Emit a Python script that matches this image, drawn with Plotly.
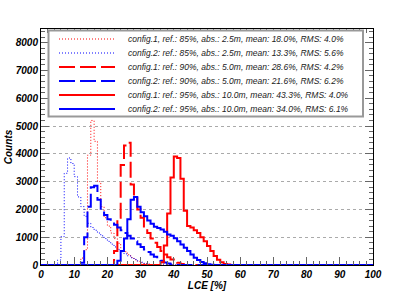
import plotly.graph_objects as go

# ---------------- data (bin width 1 %, 0..100) ----------------
bin_edges = list(range(0, 101))

rd_start = 12   # config.1, ref 85%, abs 2.5m  (red dotted)
rd_counts = [250, 550, 3950, 5200, 4450, 3000, 2100, 1700, 1400, 1150, 950, 780,
             620, 480, 370, 270, 190, 130, 80, 50, 25]

bd_start = 5    # config.2, ref 85%, abs 2.5m  (blue dotted)
bd_counts = [180, 1020, 3300, 3850, 3650, 3180, 2450, 2100, 1750, 1500, 1350, 1250,
             1150, 1050, 950, 850, 750, 650, 560, 480, 400, 330, 260, 200, 150, 100,
             60, 30, 10]

rda_start = 22  # config.1, ref 90%, abs 5.0m  (red dashed)
rda_counts = [500, 1700, 3600, 4300, 4400, 2900, 2450, 2000, 1700, 1350, 1150, 950,
              800, 650, 500, 380, 280, 200, 130, 80, 40]

bda_start = 12  # config.2, ref 90%, abs 5.0m  (blue dashed)
bda_counts = [80, 1000, 2100, 2800, 2850, 2350, 1950, 1800, 1650, 1550, 1450, 1350,
              1250, 1150, 1050, 950, 850, 750, 650, 560, 470, 380, 300, 220, 150, 90,
              50, 20]

rs_start = 36   # config.1, ref 95%, abs 10.0m (red solid)
rs_counts = [100, 700, 1850, 3150, 3900, 3850, 3100, 1950, 1400, 1350, 1250, 1150,
             1000, 850, 680, 500, 320, 190, 100, 40, 15]

bs_start = 23   # config.2, ref 95%, abs 10.0m (blue solid)
bs_counts = [150, 500, 950, 1650, 2350, 2450, 2100, 1900, 1750, 1600, 1480, 1380,
             1330, 1280, 1200, 1100, 1050, 960, 850, 740, 620, 500, 380, 260, 180,
             110, 60, 25, 10]

legend_labels = [
    "config.1, ref.: 85%, abs.: 2.5m, mean: 18.0%, RMS: 4.0%",
    "config.2: ref.: 85%, abs.: 2.5m, mean: 13.3%, RMS: 5.6%",
    "config.1: ref.: 90%, abs.: 5.0m, mean: 28.6%, RMS: 4.2%",
    "config.2: ref.: 90%, abs.: 5.0m, mean: 21.6%, RMS: 6.2%",
    "config.1: ref.: 95%, abs.: 10.0m, mean: 43.3%, RMS: 4.0%",
    "config.2: ref.: 95%, abs.: 10.0m, mean: 34.0%, RMS: 6.1%",
]

x_ticks = list(range(0, 101, 10))
y_ticks = list(range(0, 8001, 1000))

# ---------------- styles ----------------
RED = "rgb(255,0,0)"
BLUE = "rgb(0,0,255)"
styles = [
    dict(color=RED, width=1, dash="1px,2px"),
    dict(color=BLUE, width=1, dash="1px,2px"),
    dict(color=RED, width=2, dash="16px,5px"),
    dict(color=BLUE, width=2, dash="16px,5px"),
    dict(color=RED, width=2, dash="solid"),
    dict(color=BLUE, width=2, dash="solid"),
]
series = [(rd_start, rd_counts), (bd_start, bd_counts), (rda_start, rda_counts),
          (bda_start, bda_counts), (rs_start, rs_counts), (bs_start, bs_counts)]

FONT = "Liberation Sans, Arial, Helvetica, sans-serif"

def full_hist(start, vals):
    h = [0] * (len(bin_edges) - 1)
    for i, v in enumerate(vals):
        h[start + i] = v
    return h

fig = go.Figure()
for (start, vals), st, name in zip(series, styles, legend_labels):
    h = full_hist(start, vals)
    fig.add_trace(go.Scatter(
        x=bin_edges, y=h + [h[-1]], mode="lines", line_shape="hv",
        line=st, name=name, showlegend=False, hoverinfo="skip"))

# ---------------- layout ----------------
tickfont = dict(family=FONT, size=10, color="black", weight="bold", style="italic")
fig.update_layout(
    width=415, height=294,
    margin=dict(l=41, r=42, t=29, b=29),
    paper_bgcolor="white", plot_bgcolor="white",
    showlegend=False,
    xaxis=dict(range=[0, 100], tickvals=x_ticks, ticks="inside", ticklen=8,
               tickcolor="#666", tickwidth=1,
               minor=dict(dtick=2, ticks="inside", ticklen=4, tickcolor="#666", showgrid=False),
               showline=True, linecolor="black", linewidth=1, mirror="ticks",
               showgrid=False, zeroline=False, tickfont=tickfont,
               title=dict(text="LCE [%]", font=tickfont, standoff=0),
               automargin=False),
    yaxis=dict(range=[0, 8490], tickvals=y_ticks, ticks="inside", ticklen=8,
               tickcolor="#666", tickwidth=1,
               minor=dict(dtick=200, ticks="inside", ticklen=4, tickcolor="#666", showgrid=False),
               showline=True, linecolor="black", linewidth=1, mirror="ticks",
               showgrid=True, gridcolor="#aaa", griddash="dot", gridwidth=1,
               zeroline=False, tickfont=tickfont,
               title=dict(text="Counts", font=tickfont, standoff=0),
               automargin=False),
)

# ---------------- legend box (drawn) ----------------
W, H, L, T = 332.0, 236.0, 41.0, 29.0
def px(xp):
    return (xp - L) / W
def py(yp):
    return (T + H - yp) / H

fig.add_shape(type="rect", xref="paper", yref="paper",
              x0=px(48.5), x1=px(363), y0=py(116.5), y1=py(30.5),
              fillcolor="white", line=dict(color="#999", width=2), layer="above")

row_y = [39, 53, 67, 81, 95, 109]
for st, lab, yy in zip(styles, legend_labels, row_y):
    fig.add_shape(type="line", xref="paper", yref="paper",
                  x0=px(59), x1=px(115), y0=py(yy), y1=py(yy),
                  line=st, layer="above")
    fig.add_annotation(xref="paper", yref="paper", x=px(126), y=py(yy),
                       text=lab, showarrow=False, xanchor="left", yanchor="middle",
                       font=dict(family=FONT, size=8.5, color="#222", style="italic"))

fig.write_html("out.html", config={"displayModeBar": False},
               post_script="document.body.style.margin='0';document.body.style.overflow='hidden';")
